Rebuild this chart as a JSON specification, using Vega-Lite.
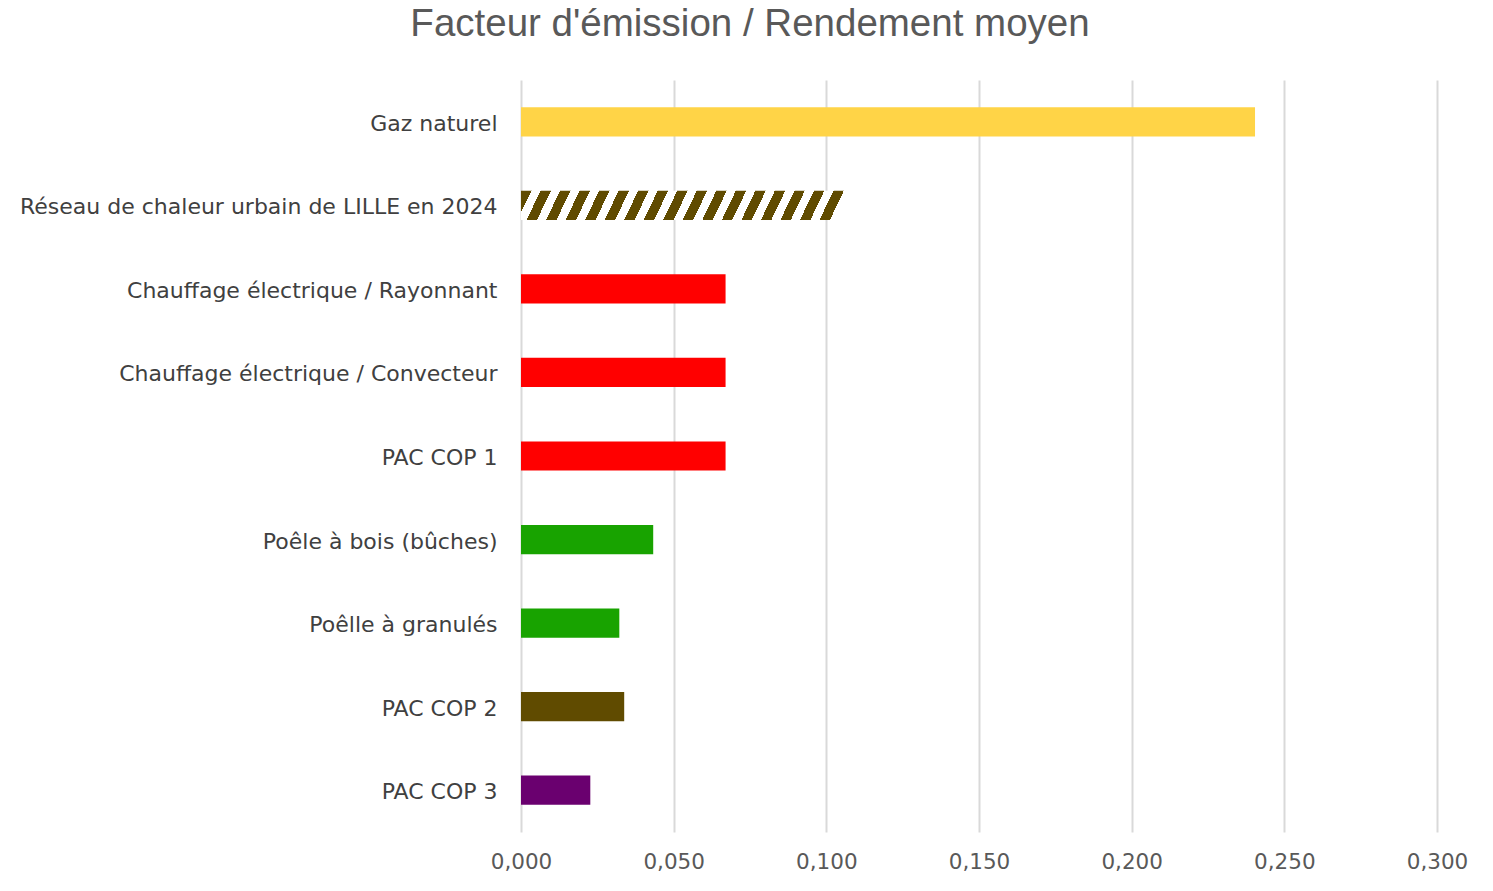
{
  "$schema": "https://vega.github.io/schema/vega-lite/v6.json",
  "width": 916,
  "height": 752,
  "autosize": {"type": "none"},
  "padding": {"left": 521, "top": 80, "right": 56, "bottom": 59},
  "background": "white",
  "config": {"view": {"stroke": null}},
  "title": {
    "text": "Facteur d'émission / Rendement moyen",
    "font": "Liberation Sans",
    "fontSize": 38.5,
    "fontWeight": "normal",
    "color": "#595959",
    "anchor": "middle",
    "frame": "group",
    "dx": -229,
    "baseline": "alphabetic",
    "offset": 6
  },
  "data": {
    "values": [
      {"source": "Gaz naturel", "valeur": 0.2404, "groupe": "gaz"},
      {"source": "Réseau de chaleur urbain de LILLE en 2024", "valeur": 0.1064, "groupe": "reseau"},
      {"source": "Chauffage électrique / Rayonnant", "valeur": 0.0670, "groupe": "electrique"},
      {"source": "Chauffage électrique / Convecteur", "valeur": 0.0670, "groupe": "electrique"},
      {"source": "PAC COP 1", "valeur": 0.0670, "groupe": "electrique"},
      {"source": "Poêle à bois (bûches)", "valeur": 0.0433, "groupe": "bois"},
      {"source": "Poêlle à granulés", "valeur": 0.0322, "groupe": "bois"},
      {"source": "PAC COP 2", "valeur": 0.0338, "groupe": "cop2"},
      {"source": "PAC COP 3", "valeur": 0.0227, "groupe": "cop3"}
    ]
  },
  "encoding": {
    "y": {
      "field": "source",
      "type": "nominal",
      "sort": [
        "Gaz naturel",
        "Réseau de chaleur urbain de LILLE en 2024",
        "Chauffage électrique / Rayonnant",
        "Chauffage électrique / Convecteur",
        "PAC COP 1",
        "Poêle à bois (bûches)",
        "Poêlle à granulés",
        "PAC COP 2",
        "PAC COP 3"
      ],
      "scale": {"paddingInner": 0.65, "paddingOuter": 0.325},
      "axis": {
        "title": null,
        "domain": false,
        "ticks": false,
        "grid": false,
        "labelFont": "DejaVu Sans",
        "labelFontSize": 22,
        "labelColor": "#404040",
        "labelPadding": 24,
        "labelOffset": 2,
        "labelLimit": 700
      }
    },
    "x": {
      "field": "valeur",
      "type": "quantitative",
      "scale": {"domain": [0, 0.3], "nice": false, "zero": true},
      "axis": {
        "title": null,
        "domain": false,
        "ticks": false,
        "grid": true,
        "gridColor": "#d9d9d9",
        "gridWidth": 2,
        "values": [0, 0.05, 0.1, 0.15, 0.2, 0.25, 0.3],
        "labelExpr": "replace(format(datum.value, '.3f'), '.', ',')",
        "labelFont": "DejaVu Sans",
        "labelFontSize": 21.5,
        "labelColor": "#595959",
        "labelPadding": 19,
        "labelFlush": false,
        "labelOverlap": false
      }
    }
  },
  "layer": [
    {
      "transform": [{"filter": "datum.groupe !== 'reseau'"}],
      "mark": {"type": "bar"},
      "encoding": {
        "color": {
          "field": "groupe",
          "type": "nominal",
          "scale": {
            "domain": ["gaz", "electrique", "bois", "cop2", "cop3"],
            "range": ["#FFD447", "#FF0000", "#18A300", "#604B00", "#6A006F"]
          },
          "legend": null
        }
      }
    },
    {
      "transform": [{"filter": "datum.groupe === 'reseau'"}],
      "mark": {
        "type": "bar",
        "fill": {
          "gradient": "linear",
          "x1": 0, "y1": 0, "x2": 1, "y2": 0.043,
          "stops": [
            {"offset": 0, "color": "#604B00"}, {"offset": 0.032, "color": "#604B00"}, {"offset": 0.032, "color": "#ffffff"}, {"offset": 0.06, "color": "#ffffff"},
            {"offset": 0.06, "color": "#604B00"}, {"offset": 0.092, "color": "#604B00"}, {"offset": 0.092, "color": "#ffffff"}, {"offset": 0.12, "color": "#ffffff"},
            {"offset": 0.12, "color": "#604B00"}, {"offset": 0.152, "color": "#604B00"}, {"offset": 0.152, "color": "#ffffff"}, {"offset": 0.18, "color": "#ffffff"},
            {"offset": 0.18, "color": "#604B00"}, {"offset": 0.212, "color": "#604B00"}, {"offset": 0.212, "color": "#ffffff"}, {"offset": 0.24, "color": "#ffffff"},
            {"offset": 0.24, "color": "#604B00"}, {"offset": 0.272, "color": "#604B00"}, {"offset": 0.272, "color": "#ffffff"}, {"offset": 0.30, "color": "#ffffff"},
            {"offset": 0.30, "color": "#604B00"}, {"offset": 0.332, "color": "#604B00"}, {"offset": 0.332, "color": "#ffffff"}, {"offset": 0.36, "color": "#ffffff"},
            {"offset": 0.36, "color": "#604B00"}, {"offset": 0.392, "color": "#604B00"}, {"offset": 0.392, "color": "#ffffff"}, {"offset": 0.42, "color": "#ffffff"},
            {"offset": 0.42, "color": "#604B00"}, {"offset": 0.452, "color": "#604B00"}, {"offset": 0.452, "color": "#ffffff"}, {"offset": 0.48, "color": "#ffffff"},
            {"offset": 0.48, "color": "#604B00"}, {"offset": 0.512, "color": "#604B00"}, {"offset": 0.512, "color": "#ffffff"}, {"offset": 0.54, "color": "#ffffff"},
            {"offset": 0.54, "color": "#604B00"}, {"offset": 0.572, "color": "#604B00"}, {"offset": 0.572, "color": "#ffffff"}, {"offset": 0.60, "color": "#ffffff"},
            {"offset": 0.60, "color": "#604B00"}, {"offset": 0.632, "color": "#604B00"}, {"offset": 0.632, "color": "#ffffff"}, {"offset": 0.66, "color": "#ffffff"},
            {"offset": 0.66, "color": "#604B00"}, {"offset": 0.692, "color": "#604B00"}, {"offset": 0.692, "color": "#ffffff"}, {"offset": 0.72, "color": "#ffffff"},
            {"offset": 0.72, "color": "#604B00"}, {"offset": 0.752, "color": "#604B00"}, {"offset": 0.752, "color": "#ffffff"}, {"offset": 0.78, "color": "#ffffff"},
            {"offset": 0.78, "color": "#604B00"}, {"offset": 0.812, "color": "#604B00"}, {"offset": 0.812, "color": "#ffffff"}, {"offset": 0.84, "color": "#ffffff"},
            {"offset": 0.84, "color": "#604B00"}, {"offset": 0.872, "color": "#604B00"}, {"offset": 0.872, "color": "#ffffff"}, {"offset": 0.90, "color": "#ffffff"},
            {"offset": 0.90, "color": "#604B00"}, {"offset": 0.932, "color": "#604B00"}, {"offset": 0.932, "color": "#ffffff"}, {"offset": 0.96, "color": "#ffffff"},
            {"offset": 0.96, "color": "#604B00"}, {"offset": 0.992, "color": "#604B00"}, {"offset": 0.992, "color": "#ffffff"}, {"offset": 1, "color": "#ffffff"}
          ]
        }
      }
    }
  ]
}
